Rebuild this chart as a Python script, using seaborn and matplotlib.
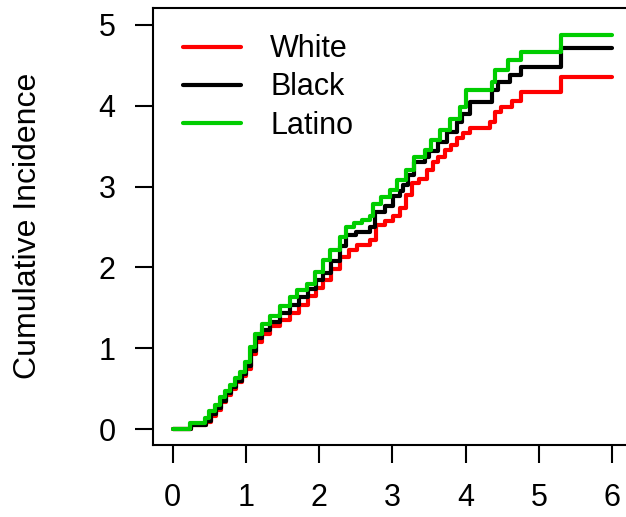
import matplotlib
matplotlib.use("Agg")
import matplotlib.pyplot as plt
import seaborn as sns
import pandas as pd

# step times / cumulative incidence
white_t = [0.00, 0.25, 0.45, 0.52, 0.59, 0.66, 0.73, 0.80, 0.87, 0.94, 1.00, 1.07, 1.14, 1.22,
           1.33, 1.46, 1.60, 1.72, 1.84, 1.95, 2.05, 2.16, 2.28, 2.40, 2.51, 2.69, 2.78, 2.90,
           3.01, 3.10, 3.19, 3.27, 3.36, 3.47, 3.55, 3.62, 3.72, 3.80, 3.88, 3.96, 4.06, 4.33,
           4.40, 4.48, 4.63, 4.75, 5.30, 6.00]
white_v = [0.00, 0.05, 0.09, 0.16, 0.24, 0.33, 0.42, 0.50, 0.58, 0.66, 0.74, 0.93, 1.08, 1.18,
           1.27, 1.35, 1.43, 1.54, 1.64, 1.74, 1.84, 1.98, 2.13, 2.22, 2.28, 2.34, 2.52, 2.58,
           2.63, 2.73, 2.90, 3.05, 3.10, 3.20, 3.30, 3.36, 3.45, 3.52, 3.60, 3.66, 3.73, 3.80,
           3.92, 3.98, 4.06, 4.17, 4.36, 4.36]

black_t = [0.00, 0.25, 0.45, 0.52, 0.59, 0.66, 0.73, 0.80, 0.87, 0.94, 1.00, 1.07, 1.14, 1.22,
           1.33, 1.46, 1.60, 1.72, 1.84, 1.95, 2.05, 2.16, 2.28, 2.37, 2.50, 2.69, 2.76, 2.90,
           3.01, 3.10, 3.15, 3.21, 3.30, 3.44, 3.50, 3.62, 3.75, 3.88, 3.95, 4.06, 4.36, 4.44,
           4.60, 4.75, 5.30, 6.00]
black_v = [0.00, 0.05, 0.10, 0.18, 0.26, 0.35, 0.44, 0.52, 0.60, 0.68, 0.78, 0.96, 1.12, 1.22,
           1.32, 1.43, 1.53, 1.63, 1.73, 1.84, 1.93, 2.08, 2.26, 2.40, 2.44, 2.50, 2.68, 2.76,
           2.88, 2.95, 3.02, 3.14, 3.30, 3.36, 3.44, 3.55, 3.68, 3.80, 3.90, 4.05, 4.20, 4.30,
           4.38, 4.48, 4.71, 4.71]

latino_t = [0.00, 0.23, 0.44, 0.50, 0.57, 0.64, 0.71, 0.78, 0.85, 0.92, 0.98, 1.05, 1.12, 1.22,
            1.33, 1.46, 1.60, 1.70, 1.83, 1.94, 2.05, 2.15, 2.28, 2.37, 2.48, 2.58, 2.69, 2.74,
            2.85, 2.96, 3.06, 3.19, 3.30, 3.44, 3.52, 3.65, 3.78, 3.92, 4.00, 4.36, 4.40, 4.58,
            4.76, 5.30, 6.00]
latino_v = [0.00, 0.07, 0.14, 0.22, 0.30, 0.39, 0.47, 0.55, 0.63, 0.71, 0.83, 1.01, 1.17, 1.30,
            1.40, 1.52, 1.63, 1.72, 1.80, 1.94, 2.09, 2.22, 2.38, 2.50, 2.55, 2.59, 2.63, 2.79,
            2.87, 2.96, 3.08, 3.20, 3.37, 3.45, 3.58, 3.70, 3.84, 3.98, 4.19, 4.30, 4.44, 4.57,
            4.66, 4.88, 4.88]

groups = ["White", "Black", "Latino"]
colors = {"White": "#FF0000", "Black": "#000000", "Latino": "#00CD00"}
x_ticks = [0, 1, 2, 3, 4, 5, 6]
y_ticks = [0, 1, 2, 3, 4, 5]

df = pd.concat([
    pd.DataFrame({"time": white_t, "ci": white_v, "group": "White"}),
    pd.DataFrame({"time": black_t, "ci": black_v, "group": "Black"}),
    pd.DataFrame({"time": latino_t, "ci": latino_v, "group": "Latino"}),
])

sns.set_style("white")
plt.rcParams["font.family"] = ["Liberation Sans", "DejaVu Sans"]
plt.rcParams["text.color"] = "black"

fig = plt.figure(figsize=(6.26, 5.17), dpi=100)
# box runs off the right edge of the canvas, like the original
ax = fig.add_axes([153 / 626, 72 / 517, 490 / 626, 437 / 517])

for g in groups:
    sub = df[df["group"] == g]
    sns.lineplot(data=sub, x="time", y="ci", ax=ax, color=colors[g], label=g,
                 estimator=None, drawstyle="steps-post", linewidth=3)

ax.set_xlim(-0.27, (643 - 173) / 73.2)
ax.set_ylim(-0.198, 5.21)
ax.set_xticks(x_ticks)
ax.set_yticks(y_ticks)
ax.tick_params(axis="both", direction="out", length=13, width=1.5, labelsize=22,
               color="black", labelcolor="black", pad=14, left=True, bottom=True)
ax.set_xlabel("")
ax.set_ylabel("")
for name, s in ax.spines.items():
    s.set_visible(name != "right")
    s.set_color("black")
    s.set_linewidth(1.5)

fig.text(28 / 626, 1 - 226 / 517, "Cumulative Incidence", rotation=90,
         ha="center", va="center", fontsize=23, color="black")

leg = ax.legend(loc="upper left", bbox_to_anchor=(0.0612, 0.94), frameon=False,
                fontsize=22, handlelength=1.9, handletextpad=0.95, labelspacing=0.27,
                borderpad=0, borderaxespad=0)
for t in leg.get_texts():
    t.set_color("black")

fig.savefig("out.png", dpi=100)
